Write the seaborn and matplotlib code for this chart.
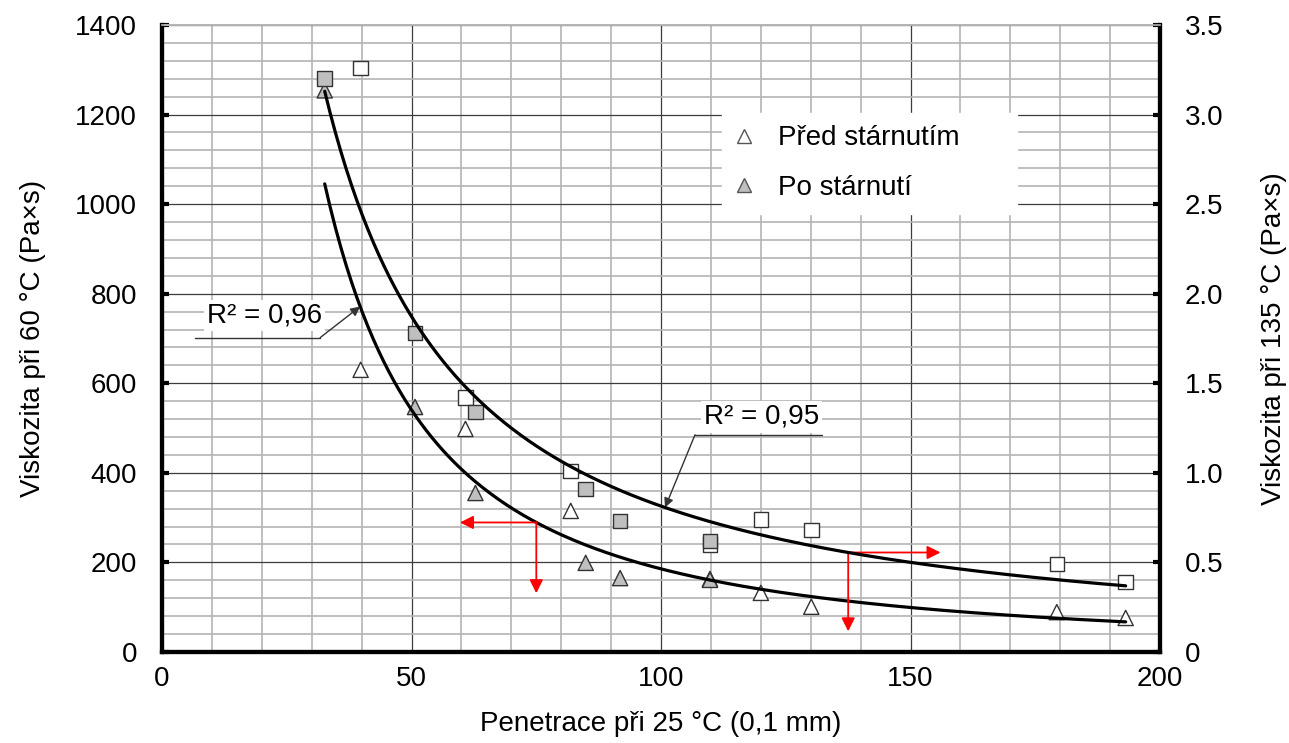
import numpy as np
import pandas as pd
import seaborn as sns
import matplotlib.pyplot as plt
from matplotlib.ticker import MultipleLocator

sns.set_theme(style="white")
plt.rcParams['font.family'] = ['Liberation Sans', 'DejaVu Sans']
plt.rcParams['text.color'] = 'black'
plt.rcParams['axes.labelcolor'] = 'black'
plt.rcParams['xtick.color'] = 'black'
plt.rcParams['ytick.color'] = 'black'

# penetrace při 25 °C (0,1 mm)
pen_pred = [39.8, 60.8, 81.9, 109.8, 120.0, 130.1, 179.3, 193.1]
pen_po = [32.6, 50.7, 62.8, 84.9, 91.8, 109.8]
# viskozita při 60 °C (Pa×s) -> trojúhelníky, levá osa
visc60_pred = [630, 498, 315, 163, 132, 101, 89, 76]
visc60_po = [1254, 547, 355, 199, 165, 161]
# viskozita při 135 °C (Pa×s) -> čtverce, pravá osa
visc135_pred = [3.26, 1.42, 1.01, 0.60, 0.74, 0.68, 0.49, 0.39]
visc135_po = [3.20, 1.78, 1.34, 0.91, 0.73, 0.62]

labels = ["Před stárnutím", "Po stárnutí"]
r2_labels = ["R² = 0,96", "R² = 0,95"]
x_ticks = [0, 50, 100, 150, 200]
y_ticks_left = [0, 200, 400, 600, 800, 1000, 1200, 1400]
y_ticks_right = [0.0, 0.5, 1.0, 1.5, 2.0, 2.5, 3.0, 3.5]

fill = {labels[0]: "white", labels[1]: "#bfbfbf"}
scale = y_ticks_left[-1] / y_ticks_right[-1]
fs = 20

df60 = pd.DataFrame({"pen": pen_pred + pen_po, "visc": visc60_pred + visc60_po,
                     "stav": [labels[0]] * len(pen_pred) + [labels[1]] * len(pen_po)})
df135 = pd.DataFrame({"pen": pen_pred + pen_po, "visc": visc135_pred + visc135_po,
                      "stav": [labels[0]] * len(pen_pred) + [labels[1]] * len(pen_po)})


def power_fit(x, y):
    # mocninná spojnice trendu (jako v Excelu)
    b, ln_a = np.polyfit(np.log(x), np.log(y), 1)
    return np.exp(ln_a), b


a60, b60 = power_fit(df60["pen"], df60["visc"])
a135, b135 = power_fit(df135["pen"], df135["visc"])
xs = np.linspace(df60["pen"].min(), df60["pen"].max(), 300)


def low(x):
    return a60 * x ** b60


def up(x):
    return a135 * x ** b135 * scale


fig, ax1 = plt.subplots(figsize=(12.89, 7.43), dpi=100)
fig.subplots_adjust(left=0.1257, right=0.9, bottom=0.1225, top=0.9664)
ax2 = ax1.twinx()

sns.scatterplot(data=df60, x="pen", y="visc", hue="stav", palette=fill, marker="^",
                s=120, edgecolor="#333333", linewidth=1, legend=False, ax=ax1, zorder=3)
sns.lineplot(x=xs, y=low(xs), color="black", lw=2.3, ax=ax1, zorder=5)

sns.scatterplot(data=df135, x="pen", y="visc", hue="stav", palette=fill, marker="s",
                s=110, edgecolor="#333333", linewidth=1, legend=False, ax=ax2, zorder=3)
sns.lineplot(x=xs, y=up(xs) / scale, color="black", lw=2.3, ax=ax2, zorder=5)

ax1.set_xlim(0, 200)
ax1.set_ylim(0, 1400)
ax2.set_ylim(0, 3.5)
ax1.set_xticks(x_ticks)
ax1.set_yticks(y_ticks_left)
ax2.set_yticks(y_ticks_right)
ax2.set_yticklabels(["0"] + [f"{v:.1f}" for v in y_ticks_right[1:]])
ax1.xaxis.set_minor_locator(MultipleLocator(10))
ax1.yaxis.set_minor_locator(MultipleLocator(40))

ax1.set_axisbelow(True)
ax1.grid(which="major", color="#3c3c3c", lw=0.9)
ax1.grid(which="minor", color="#b4b4b4", lw=1.2)

ax1.tick_params(axis="both", which="major", direction="in", length=5, width=3, labelsize=fs)
ax1.tick_params(axis="y", pad=18)
ax1.tick_params(axis="x", pad=10)
ax1.tick_params(which="minor", length=0)
ax2.tick_params(axis="y", which="major", direction="in", length=5, width=3, labelsize=fs, pad=18)

for ax in (ax1, ax2):
    for side in ("left", "bottom", "right"):
        ax.spines[side].set_color("black")
        ax.spines[side].set_linewidth(3)
    ax.spines["top"].set_color("#b4b4b4")
    ax.spines["top"].set_linewidth(1.2)

ax1.set_xlabel("Penetrace při 25 °C (0,1 mm)", fontsize=fs, labelpad=14)
ax1.set_ylabel("Viskozita při 60 °C (Pa×s)", fontsize=fs, labelpad=21)
ax2.set_ylabel("Viskozita při 135 °C (Pa×s)", fontsize=fs, labelpad=27)

# R² popisky s odkazovou čarou
lead = "#333333"
ax1.text(20.6, 751, r2_labels[0], fontsize=fs, ha="center", va="center", zorder=6,
         bbox=dict(facecolor="white", edgecolor="none", pad=2))
ax1.plot([6.6, 31.7], [702, 702], color=lead, lw=1, zorder=6)
ax1.annotate("", xy=(39.7, low(39.7)), xytext=(31.7, 702), zorder=6,
             arrowprops=dict(arrowstyle="-|>", color=lead, lw=1, mutation_scale=14,
                             shrinkA=0, shrinkB=0))

ax1.text(120.2, 525, r2_labels[1], fontsize=fs, ha="center", va="center", zorder=6,
         bbox=dict(facecolor="white", edgecolor="none", pad=2))
ax1.plot([106.8, 132.3], [485, 485], color=lead, lw=1, zorder=6)
ax1.annotate("", xy=(100.8, up(100.8)), xytext=(106.8, 485), zorder=6,
             arrowprops=dict(arrowstyle="-|>", color=lead, lw=1, mutation_scale=14,
                             shrinkA=0, shrinkB=0))

# červené šipky (odečet hodnot)
red = dict(arrowstyle="-|>", color="red", lw=1.3, mutation_scale=20, shrinkA=0, shrinkB=0)
x1 = 75
ax1.annotate("", xy=(x1 - 15.3, low(x1)), xytext=(x1, low(x1)), arrowprops=red, zorder=6)
ax1.annotate("", xy=(x1, low(x1) - 158), xytext=(x1, low(x1)), arrowprops=red, zorder=6)
x2 = 137.5
ax1.annotate("", xy=(x2 + 18.5, up(x2)), xytext=(x2, up(x2)), arrowprops=red, zorder=6)
ax1.annotate("", xy=(x2, up(x2) - 176), xytext=(x2, up(x2)), arrowprops=red, zorder=6)

handles = [plt.Line2D([], [], marker="^", ls="", markersize=10, markerfacecolor=fill[lab],
                      markeredgecolor="#555555", markeredgewidth=1) for lab in labels]
leg = ax2.legend(handles, labels, loc="upper left", bbox_to_anchor=(0.561, 0.702, 0.296, 0.158),
                 mode="expand", fontsize=fs, frameon=True, fancybox=False, framealpha=1,
                 facecolor="white", edgecolor="white", borderpad=0.45, handlelength=0.7,
                 handletextpad=0.85, labelspacing=0.86, borderaxespad=0)
leg.set_zorder(10)

plt.savefig("out.png", dpi=100)
